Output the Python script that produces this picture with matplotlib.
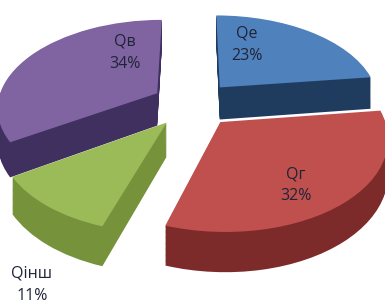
import numpy as np
import matplotlib
matplotlib.use("Agg")
import matplotlib.pyplot as plt
import matplotlib.transforms as mtransforms

labels = ["Qе", "Qг", "Qінш", "Qв"]
shares = [23, 32, 11, 34]
top_colors = ["#4f81bd", "#c0504d", "#9bbb59", "#8064a2"]
side_colors = ["#1f3b5e", "#7d2b2a", "#76933c", "#3f3060"]
explode = [0.26, 0.26, 0.26, 0.26]

# perspective of the tilted pie (output units are pixels)
SX, SY, K = 160.0, 87.4, 0.15
DEPTH = 33
CX, CY = 193, 104
W, H = 385, 306


class Persp(mtransforms.Transform):
    input_dims = 2
    output_dims = 2
    is_separable = False
    has_inverse = False

    def __init__(self, z=0.0):
        super().__init__()
        self.z = z

    def transform_non_affine(self, values):
        xy = np.asarray(values, dtype=float)
        w = 1.0 + K * xy[:, 1]
        return np.column_stack([SX * xy[:, 0] / w, (SY * xy[:, 1] - self.z) / w])


fig = plt.figure(figsize=(W / 100, H / 100), dpi=100)
ax = fig.add_axes([0, 0, 1, 1])

# side walls: stacked copies of the pie, pushed down
for z in np.arange(DEPTH, 0, -1.0):
    sides, _ = ax.pie(shares, explode=explode, colors=side_colors,
                      startangle=90, counterclock=False,
                      wedgeprops=dict(linewidth=0))
    for w in sides:
        w.set_transform(Persp(z) + ax.transData)

# top faces
tops, _ = ax.pie(shares, explode=explode, colors=top_colors,
                 startangle=90, counterclock=False,
                 wedgeprops=dict(linewidth=0))
for w in tops:
    w.set_transform(Persp(0) + ax.transData)

ax.set_aspect("auto")
ax.set_xlim(-CX, W - CX)
ax.set_ylim(CY - H, CY)
ax.axis("off")

label_pos = [(0.642, 0.853), (0.769, 0.395), (0.083, 0.069), (0.325, 0.827)]
for name, val, (x, y) in zip(labels, shares, label_pos):
    ax.text(x, y, f"{name}\n{val}%", transform=ax.transAxes,
            ha="center", va="center", fontsize=11.5, linespacing=1.5,
            color="#1f2537", family=["Open Sans", "DejaVu Sans"])

fig.savefig("out.png", dpi=100)
